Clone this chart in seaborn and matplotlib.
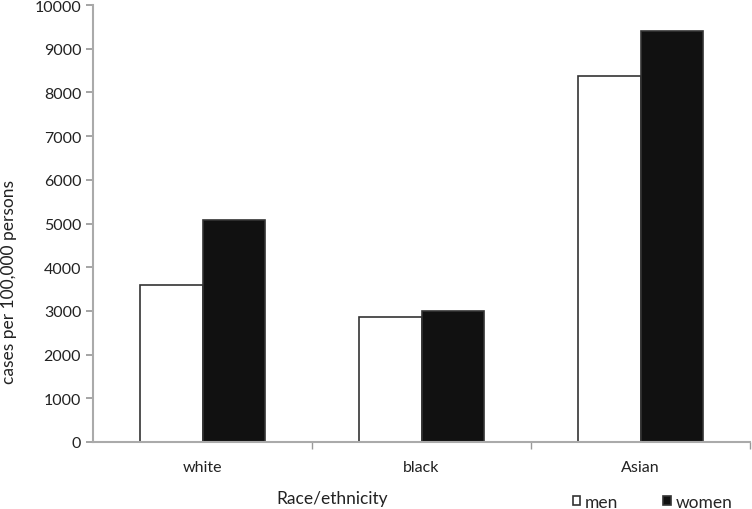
import matplotlib
matplotlib.use("Agg")
import matplotlib.pyplot as plt
import seaborn as sns
import pandas as pd

groups = ["white", "black", "Asian"]
sexes = ["men", "women"]
men_rates = [3600, 2870, 8370]
women_rates = [5070, 3000, 9400]
y_ticks = list(range(0, 10001, 1000))

df = pd.DataFrame({
    "group": groups * 2,
    "sex": ["men"] * 3 + ["women"] * 3,
    "rate": men_rates + women_rates,
})

sns.set_theme(style="white")
plt.rcParams["font.family"] = ["Lato", "DejaVu Sans"]

fig = plt.figure(figsize=(7.52, 5.10), dpi=100)
ax = fig.add_axes([93 / 752, 1 - 443 / 510, 657 / 752, 437 / 510])

sns.barplot(data=df, x="group", y="rate", hue="sex", order=groups, hue_order=sexes,
            palette={"men": "white", "women": "#111111"}, width=0.57,
            edgecolor="#333333", linewidth=1.2, ax=ax)

ax.set_ylim(0, 10000)
ax.set_xlim(-0.5, 2.5)
ax.set_yticks(y_ticks)
ax.set_yticklabels([str(t) for t in y_ticks], fontsize=11.5, color="#222222")
ax.set_xticks([0.5, 1.5, 2.5], minor=True)
ax.tick_params(axis="x", which="major", length=0, labelsize=11.5, labelcolor="#222222", pad=13)
ax.tick_params(axis="x", which="minor", length=5, color="#999999", direction="out", bottom=True)
ax.tick_params(axis="y", length=5, color="#999999", direction="out", left=True)

for side in ["top", "right"]:
    ax.spines[side].set_visible(False)
for side in ["left", "bottom"]:
    ax.spines[side].set_color("#aaaaaa")
    ax.spines[side].set_linewidth(1.5)

ax.set_xlabel("Race/ethnicity", fontsize=12.5, color="#222222")
ax.xaxis.set_label_coords(0.364, -0.11)
ax.set_ylabel("cases per 100,000 persons", fontsize=12.5, color="#222222")
ax.yaxis.set_label_coords(-0.116, 0.368)

handles, labels = ax.get_legend_handles_labels()
ax.get_legend().remove()
fig.legend(handles, labels, loc="center right", bbox_to_anchor=(0.99, 0.014), ncol=2,
           frameon=False, fontsize=12.5, handlelength=0.45, handleheight=0.45,
           handletextpad=0.25, columnspacing=2.6, borderpad=0.2)

fig.savefig("out.png", dpi=100)
